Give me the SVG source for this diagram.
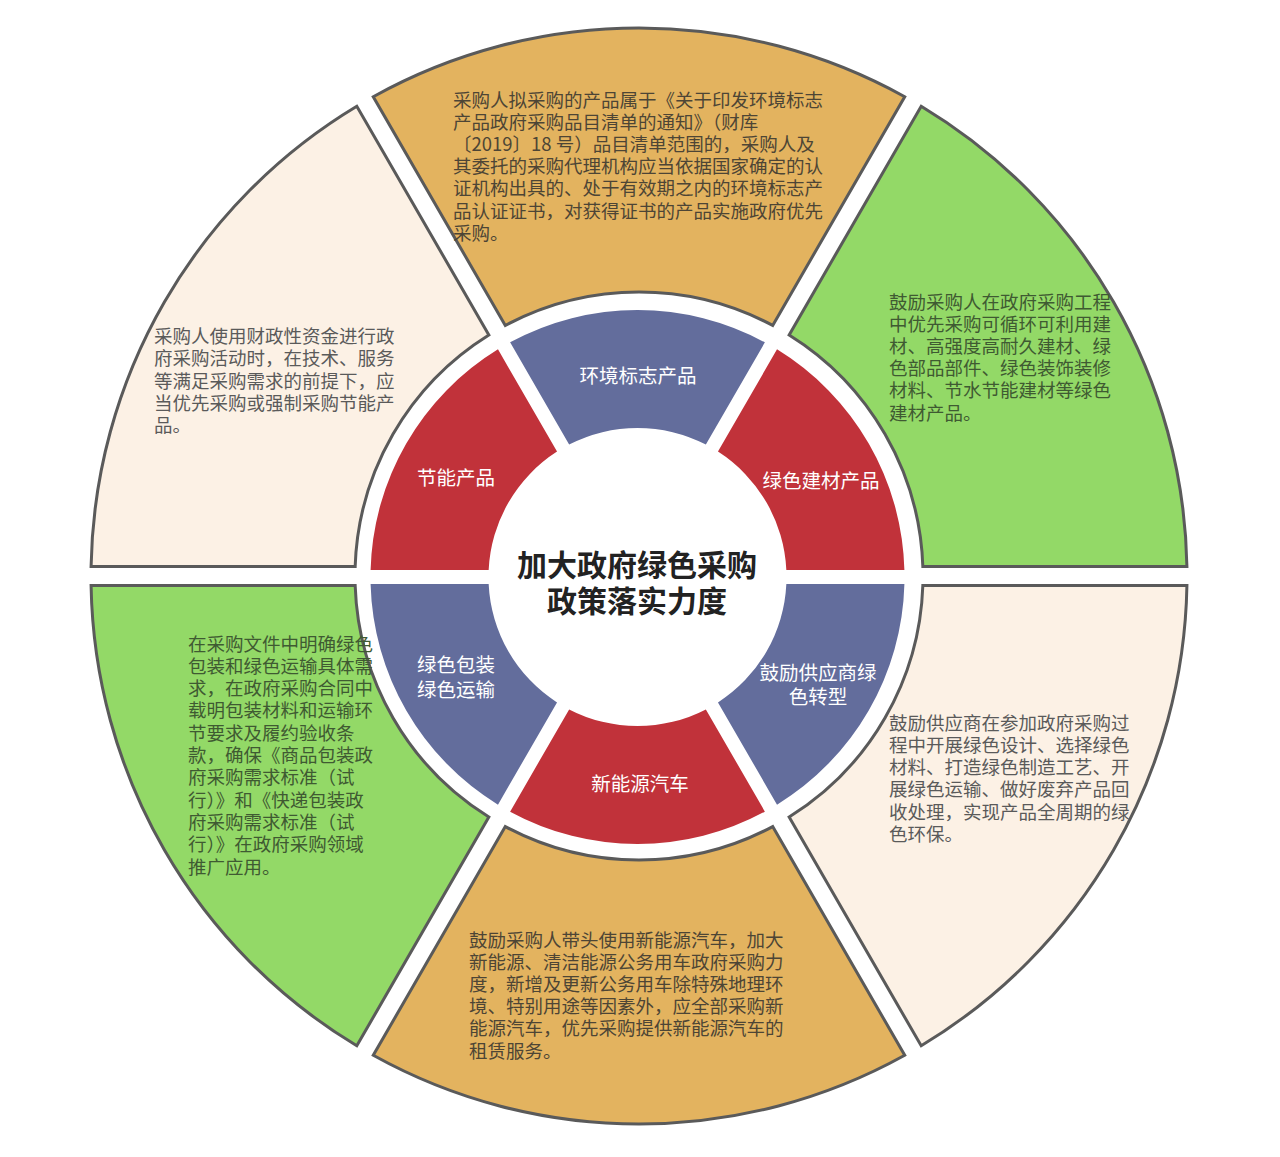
<svg xmlns="http://www.w3.org/2000/svg" width="1280" height="1157" viewBox="0 0 1280 1157">
<style>
.outer{stroke:#5a5a5a;stroke-width:3;stroke-linejoin:miter}
.orange{fill:#e3b35f}
.green{fill:#93d967}
.cream{fill:#fcf1e5}
.red{fill:#c1323a}
.blue{fill:#636d9c}
.desc{font-family:"Noto Sans CJK SC","Noto Sans",sans-serif;font-size:18.5px}
.td-o{fill:#4d4535}
.td-g{fill:#3f5a32}
.td-c{fill:#5a5a5a}
.lbl{font-family:"Noto Sans CJK SC","Noto Sans",sans-serif;font-size:19.5px;fill:#ffffff;text-anchor:middle}
.title{font-family:"Noto Sans CJK SC","Noto Sans",sans-serif;font-size:30px;font-weight:bold;fill:#222222;text-anchor:middle}
</style>
<rect width="1280" height="1157" fill="#ffffff"/>
<g id="connectors"/>
<!-- outer ring -->
<g id="outer-top">
<path class="outer orange" d="M904.73,96.75 A548,548 0 0 0 373.27,96.75 L505.31,325.44 A284,284 0 0 1 772.69,325.44 Z"/>
<text class="desc td-o" x="453"><tspan x="453" y="106.5">采购人拟采购的产品属于《关于印发环境标志</tspan><tspan x="453" y="128.7">产品政府采购品目清单的通知》（财库</tspan><tspan x="453" y="150.9">〔2019〕18 号）品目清单范围的，采购人及</tspan><tspan x="453" y="173.1">其委托的采购代理机构应当依据国家确定的认</tspan><tspan x="453" y="195.3">证机构出具的、处于有效期之内的环境标志产</tspan><tspan x="453" y="217.5">品认证证书，对获得证书的产品实施政府优先</tspan><tspan x="453" y="239.7">采购。</tspan></text>
</g>
<g id="outer-right-top">
<path class="outer green" d="M1186.92,566.5 A548,548 0 0 0 921.19,106.25 L789.15,334.94 A284,284 0 0 1 922.84,566.5 Z"/>
<text class="desc td-g"><tspan x="889" y="308.5">鼓励采购人在政府采购工程</tspan><tspan x="889" y="330.7">中优先采购可循环可利用建</tspan><tspan x="889" y="352.9">材、高强度高耐久建材、绿</tspan><tspan x="889" y="375.1">色部品部件、绿色装饰装修</tspan><tspan x="889" y="397.3">材料、节水节能建材等绿色</tspan><tspan x="889" y="419.5">建材产品。</tspan></text>
</g>
<g id="outer-left-top">
<path class="outer cream" d="M356.81,106.25 A548,548 0 0 0 91.08,566.5 L355.16,566.5 A284,284 0 0 1 488.85,334.94 Z"/>
<text class="desc td-c"><tspan x="154" y="343">采购人使用财政性资金进行政</tspan><tspan x="154" y="365.3">府采购活动时，在技术、服务</tspan><tspan x="154" y="387.6">等满足采购需求的前提下，应</tspan><tspan x="154" y="409.9">当优先采购或强制采购节能产</tspan><tspan x="154" y="432.2">品。</tspan></text>
</g>
<g id="outer-left-bottom">
<path class="outer green" d="M91.08,585.5 A548,548 0 0 0 356.81,1045.75 L488.85,817.06 A284,284 0 0 1 355.16,585.5 Z"/>
<text class="desc td-g"><tspan x="188" y="650.5">在采购文件中明确绿色</tspan><tspan x="188" y="672.8">包装和绿色运输具体需</tspan><tspan x="188" y="695.1">求，在政府采购合同中</tspan><tspan x="188" y="717.4">载明包装材料和运输环</tspan><tspan x="188" y="739.7">节要求及履约验收条</tspan><tspan x="188" y="762">款，确保《商品包装政</tspan><tspan x="188" y="784.3">府采购需求标准（试</tspan><tspan x="188" y="806.6">行）》和《快递包装政</tspan><tspan x="188" y="828.9">府采购需求标准（试</tspan><tspan x="188" y="851.2">行）》在政府采购领域</tspan><tspan x="188" y="873.5">推广应用。</tspan></text>
</g>
<g id="outer-bottom">
<path class="outer orange" d="M373.27,1055.25 A548,548 0 0 0 904.73,1055.25 L772.69,826.56 A284,284 0 0 1 505.31,826.56 Z"/>
<text class="desc td-o"><tspan x="469" y="946.5">鼓励采购人带头使用新能源汽车，加大</tspan><tspan x="469" y="968.7">新能源、清洁能源公务用车政府采购力</tspan><tspan x="469" y="990.9">度，新增及更新公务用车除特殊地理环</tspan><tspan x="469" y="1013.1">境、特别用途等因素外，应全部采购新</tspan><tspan x="469" y="1035.3">能源汽车，优先采购提供新能源汽车的</tspan><tspan x="469" y="1057.5">租赁服务。</tspan></text>
</g>
<g id="outer-right-bottom">
<path class="outer cream" d="M921.19,1045.75 A548,548 0 0 0 1186.92,585.5 L922.84,585.5 A284,284 0 0 1 789.15,817.06 Z"/>
<text class="desc td-c"><tspan x="889" y="729.5">鼓励供应商在参加政府采购过</tspan><tspan x="889" y="751.8">程中开展绿色设计、选择绿色</tspan><tspan x="889" y="774.1">材料、打造绿色制造工艺、开</tspan><tspan x="889" y="796.4">展绿色运输、做好废弃产品回</tspan><tspan x="889" y="818.7">收处理，实现产品全周期的绿</tspan><tspan x="889" y="841">色环保。</tspan></text>
</g>
<!-- inner ring -->
<g id="inner-top">
<path class="blue" d="M764.89,342.36 A267,267 0 0 0 510.11,342.36 L569.14,444.6 A149,149 0 0 1 705.86,444.6 Z"/>
<text class="lbl" x="638" y="383">环境标志产品</text>
</g>
<g id="inner-right-top">
<path class="red" d="M904.41,570 A267,267 0 0 0 777.02,349.36 L717.98,451.6 A149,149 0 0 1 786.34,570 Z"/>
<text class="lbl" x="821" y="488">绿色建材产品</text>
</g>
<g id="inner-left-top">
<path class="red" d="M497.98,349.36 A267,267 0 0 0 370.59,570 L488.66,570 A149,149 0 0 1 557.02,451.6 Z"/>
<text class="lbl" x="456" y="485">节能产品</text>
</g>
<g id="inner-left-bottom">
<path class="blue" d="M370.59,584 A267,267 0 0 0 497.98,804.64 L557.02,702.4 A149,149 0 0 1 488.66,584 Z"/>
<text class="lbl"><tspan x="456" y="672">绿色包装</tspan><tspan x="456" y="697">绿色运输</tspan></text>
</g>
<g id="inner-bottom">
<path class="red" d="M510.11,811.64 A267,267 0 0 0 764.89,811.64 L705.86,709.4 A149,149 0 0 1 569.14,709.4 Z"/>
<text class="lbl" x="640" y="791">新能源汽车</text>
</g>
<g id="inner-right-bottom">
<path class="blue" d="M777.02,804.64 A267,267 0 0 0 904.41,584 L786.34,584 A149,149 0 0 1 717.98,702.4 Z"/>
<text class="lbl"><tspan x="818" y="680">鼓励供应商绿</tspan><tspan x="818" y="704">色转型</tspan></text>
</g>
<g id="center">
<text class="title"><tspan x="637" y="576">加大政府绿色采购</tspan><tspan x="637" y="612">政策落实力度</tspan></text>
</g>
</svg>
